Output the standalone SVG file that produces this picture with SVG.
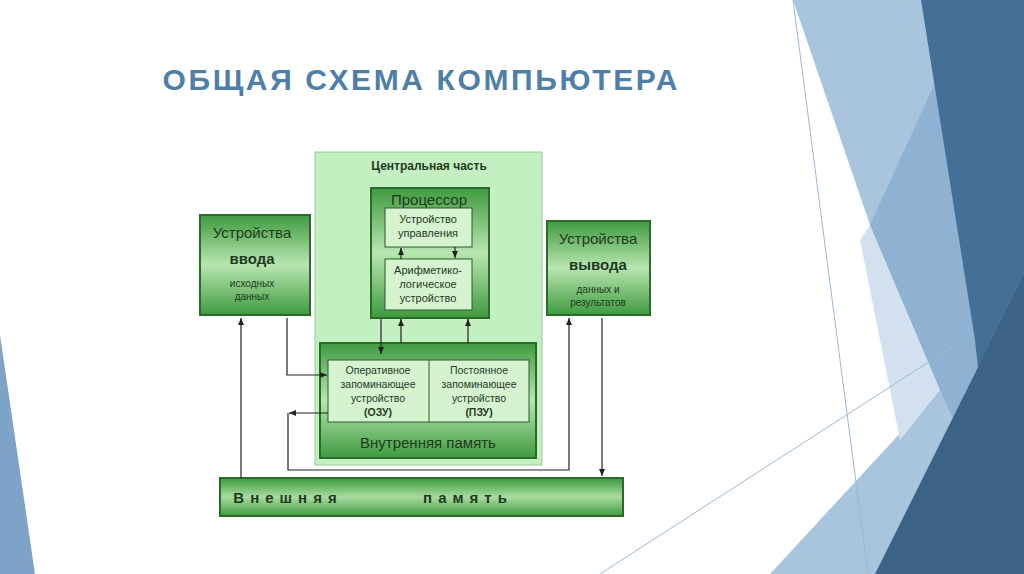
<svg xmlns="http://www.w3.org/2000/svg" width="1024" height="574" viewBox="0 0 1024 574">
<defs>
<linearGradient id="g" x1="0" y1="0" x2="0" y2="1"><stop offset="0" stop-color="#3f9a3f"/><stop offset="0.5" stop-color="#b8e6b0"/><stop offset="1" stop-color="#3f9a3f"/></linearGradient>
<linearGradient id="gh" x1="0" y1="0" x2="0" y2="1"><stop offset="0" stop-color="#3f9a3f"/><stop offset="0.5" stop-color="#a8dca0"/><stop offset="1" stop-color="#3f9a3f"/></linearGradient>
<marker id="a" markerWidth="8" markerHeight="8" refX="7" refY="4" orient="auto" markerUnits="userSpaceOnUse"><path d="M0,1 L7,4 L0,7 Z" fill="#222"/></marker>
</defs>
<style>
.t{font-family:"Liberation Sans",Arial,sans-serif;fill:#1e3a1e;text-anchor:middle}
.box{stroke:#2a6a2a;stroke-width:2}
.in{fill:#d6f3d0;stroke:#2a5a2a;stroke-width:1}
.c{stroke:#222;stroke-width:1.2;fill:none}
</style>
<rect width="1024" height="574" fill="#fff"/>
<g id="bg">
<polygon points="793,0 1024,0 1024,574 770,574 940,390 870,225" fill="#a9c5dd"/>
<polygon points="870,225 940,390 900,440 860,240" fill="#d3e1ee"/>
<polygon points="870,225 950,50 1024,200 1024,574 940,390" fill="#8fb2d3"/>
<polygon points="921,0 1024,0 1024,574 1000,574 975,340" fill="#466f96"/>
<polygon points="875,574 1024,275 1024,574" fill="#3c6286"/>
<line x1="793" y1="0" x2="868" y2="574" stroke="#9fb9d0" stroke-width="1"/>
<line x1="600" y1="574" x2="955" y2="345" stroke="#9fb9d0" stroke-width="1"/>
<polygon points="0,335 35,574 0,574" fill="#7ea3c8"/>
</g>
<text x="420" y="90" font-family="'Liberation Sans',Arial,sans-serif" font-size="30" font-weight="bold" fill="#4f7fa8" text-anchor="middle" textLength="515">ОБЩАЯ СХЕМА КОМПЬЮТЕРА</text>
<g id="central"><rect x="315" y="152" width="227" height="313" fill="#c4efc0" stroke="#9ccc98"/>
<text class="t" x="429" y="170" font-size="12" font-weight="bold">Центральная  часть</text></g>
<g id="cpu"><rect class="box" x="371" y="188" width="118" height="130" fill="url(#g)"/>
<text class="t" x="429" y="205" font-size="15">Процессор</text></g>
<g id="cu"><rect class="in" x="385" y="208" width="87" height="39"/>
<text class="t" x="428" y="223" font-size="11">Устройство</text><text class="t" x="428" y="237" font-size="11">управления</text></g>
<g id="alu"><rect class="in" x="385" y="259" width="87" height="51"/>
<text class="t" x="428" y="274" font-size="11">Арифметико-</text><text class="t" x="428" y="288" font-size="11">логическое</text><text class="t" x="428" y="302" font-size="11">устройство</text></g>
<g id="input"><rect class="box" x="200" y="215" width="110" height="100" fill="url(#g)"/>
<text class="t" x="252" y="238" font-size="15">Устройства</text><text class="t" x="252" y="264" font-size="15" font-weight="bold">ввода</text>
<text class="t" x="252" y="287" font-size="10">исходных</text><text class="t" x="252" y="300" font-size="10">данных</text></g>
<g id="output"><rect class="box" x="547" y="221" width="103" height="94" fill="url(#g)"/>
<text class="t" x="598" y="244" font-size="15">Устройства</text><text class="t" x="598" y="270" font-size="15" font-weight="bold">вывода</text>
<text class="t" x="598" y="293" font-size="10">данных и</text><text class="t" x="598" y="306" font-size="10">результатов</text></g>
<g id="mem"><rect class="box" x="320" y="343" width="216" height="115" fill="url(#g)"/>
<rect class="in" x="328" y="360" width="201" height="62"/><line x1="429" y1="360" x2="429" y2="422" stroke="#2a5a2a"/>
<text class="t" x="428" y="448" font-size="15">Внутренняя память</text></g>
<g id="ram"><text class="t" x="378" y="374" font-size="10.5">Оперативное</text><text class="t" x="378" y="388" font-size="10.5">запоминающее</text><text class="t" x="378" y="402" font-size="10.5">устройство</text><text class="t" x="378" y="416" font-size="10.5" font-weight="bold">(ОЗУ)</text></g>
<g id="rom"><text class="t" x="479" y="374" font-size="10.5">Постоянное</text><text class="t" x="479" y="388" font-size="10.5">запоминающее</text><text class="t" x="479" y="402" font-size="10.5">устройство</text><text class="t" x="479" y="416" font-size="10.5" font-weight="bold">(ПЗУ)</text></g>
<g id="ext"><rect class="box" x="220" y="478" width="403" height="38" fill="url(#gh)"/>
<text class="t" x="288" y="503" font-size="15" font-weight="bold" letter-spacing="6" text-anchor="start">Внешняя</text>
<text class="t" x="468" y="503" font-size="15" font-weight="bold" letter-spacing="6" text-anchor="start">память</text></g>
<g id="connectors">
<path class="c" d="M401,259 V248" marker-end="url(#a)"/>
<path class="c" d="M455,247 V258" marker-end="url(#a)"/>
<path class="c" d="M381,319 V354" marker-end="url(#a)"/>
<path class="c" d="M401,343 V319" marker-end="url(#a)"/>
<path class="c" d="M468,343 V319" marker-end="url(#a)"/>
<path class="c" d="M241,478 V318" marker-end="url(#a)"/>
<path class="c" d="M287,318 V375 H327" marker-end="url(#a)"/>
<path class="c" d="M328,413 H289" marker-end="url(#a)"/>
<path class="c" d="M288,413 V470 H569 V318" marker-end="url(#a)"/>
<path class="c" d="M602,318 V476" marker-end="url(#a)"/>
</g>
</svg>
